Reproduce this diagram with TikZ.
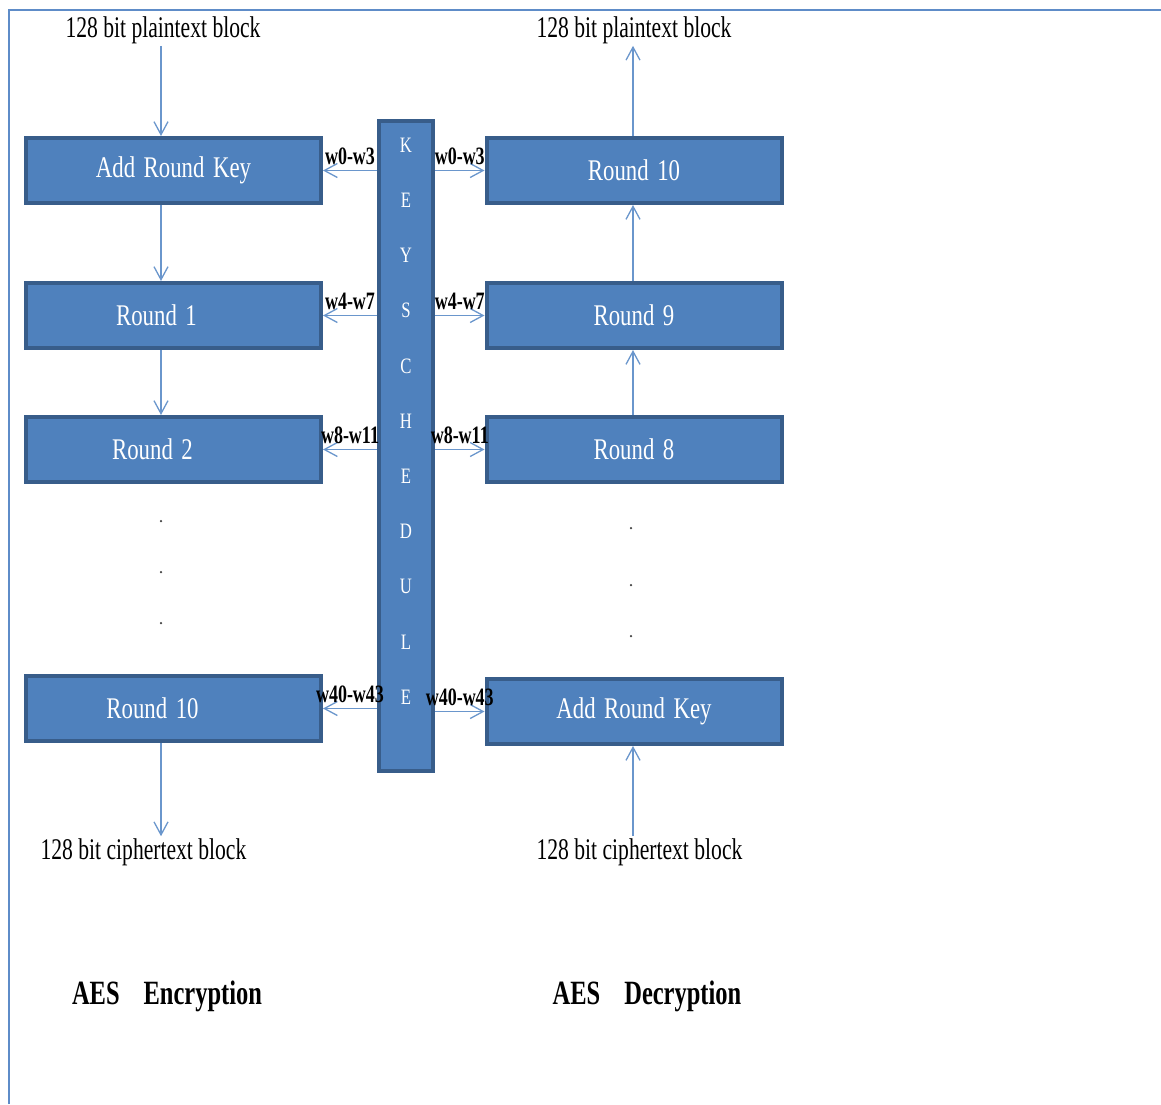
\documentclass[tikz,border=0pt]{standalone}
\usepackage{fontspec}
\setmainfont{Liberation Serif}[FakeStretch=0.72]
\newfontfamily\boxfont{Liberation Serif}[FakeStretch=0.76, WordSpace=1.5]
\usepackage{tikz}
\usetikzlibrary{arrows.meta,positioning}
\definecolor{boxblue}{HTML}{4F81BD}
\definecolor{boxedge}{HTML}{385D8A}
\definecolor{linkblue}{HTML}{6A96CC}
\definecolor{framecol}{HTML}{5E8CC8}

\tikzset{
  rbox/.style={draw=boxedge, fill=boxblue, line width=4pt, minimum width=295pt,
    minimum height=65pt, text=white, font=\boxfont\fontsize{30}{36}\selectfont},
  kbox/.style={draw=boxedge, fill=boxblue, line width=4pt, minimum width=54pt,
    minimum height=650pt},
  ktext/.style={text=white, align=center, font=\boxfont\fontsize{22}{55.2}\selectfont},
  link/.style={draw=linkblue, line width=1.3pt, -{Straight Barb[length=13pt,width=14pt]}},
  wlab/.style={above=4pt, inner sep=1pt, font=\bfseries\fontsize{25}{28}\selectfont},
  blocklab/.style={inner sep=2pt, font=\fontsize{30}{36}\selectfont},
  aestitle/.style={font=\bfseries\fontsize{34}{40}\selectfont},
  dot/.style={circle, fill=black!75, inner sep=0pt, minimum size=2.5pt},
}

\begin{document}
\begin{tikzpicture}[x=1pt, y=-1pt]
   \useasboundingbox (0,0) rectangle (1161,1104);
   \draw[framecol, line width=2pt] (9,1104) -- (9,10) -- (1161,10);

   % column axes
   \coordinate (encx) at (161,0);
   \coordinate (decx) at (633,0);

   % encryption side
   \node[blocklab] (ptE) at (163,30) {128 bit plaintext block};
   \node[rbox] (ark) at (173.5,170.5) {Add Round Key};
   \node[rbox] (r1) at (173.5,315.5) {Round 1\hspace*{34pt}};
   \node[rbox] (r2) at (173.5,449.5) {Round 2\hspace*{42pt}};
   \node[dot] (e1) at (161,521) {};
   \node[dot] (e2) at (161,572) {};
   \node[dot] (e3) at (161,623) {};
   \node[rbox] (r10) at (173.5,708.5) {Round 10\hspace*{42pt}};
   \node[blocklab] (ctE) at (143.5,852) {128 bit ciphertext block};
   \node[aestitle] (encT) at (167,996) {AES\hspace{24pt}Encryption};

   % key schedule in the middle
   \node[kbox] (ks) at (406,446) {};
   \node[ktext] (kstxt) at (406,421) {K\\E\\Y\\S\\C\\H\\E\\D\\U\\L\\E};

   % decryption side
   \node[blocklab] (ptD) at (634,30) {128 bit plaintext block};
   \node[rbox] (dr10) at (634,170.5) {Round 10};
   \node[rbox] (dr9) at (634,315.5) {Round 9};
   \node[rbox] (dr8) at (634,449.5) {Round 8};
   \node[dot] (d1) at (631,528) {};
   \node[dot] (d2) at (631,585) {};
   \node[dot] (d3) at (631,636) {};
   \node[rbox] (dark) at (634,711.5) {Add Round Key};
   \node[blocklab] (ctD) at (639.5,852) {128 bit ciphertext block};
   \node[aestitle] (decT) at (647,996) {AES\hspace{24pt}Decryption};

   % data path
   \draw[link] (ptE.south -| encx) -- (ark.north -| encx);
   \draw[link] (ark.south -| encx) -- (r1.north -| encx);
   \draw[link] (r1.south -| encx) -- (r2.north -| encx);
   \draw[link] (r10.south -| encx) -- (ctE.north -| encx);

   \draw[link] (ctD.north -| decx) -- (dark.south -| decx);
   \draw[link] (dr8.north -| decx) -- (dr9.south -| decx);
   \draw[link] (dr9.north -| decx) -- (dr10.south -| decx);
   \draw[link] (dr10.north -| decx) -- (ptD.south -| decx);

   % round keys
   \draw[link] (ark -| ks.west) -- node[wlab]{w0-w3} (ark.east);
   \draw[link] (r1 -| ks.west) -- node[wlab]{w4-w7} (r1.east);
   \draw[link] (r2 -| ks.west) -- node[wlab]{w8-w11} (r2.east);
   \draw[link] (r10 -| ks.west) -- node[wlab]{w40-w43} (r10.east);

   \draw[link] (dr10 -| ks.east) -- node[wlab]{w0-w3} (dr10.west);
   \draw[link] (dr9 -| ks.east) -- node[wlab]{w4-w7} (dr9.west);
   \draw[link] (dr8 -| ks.east) -- node[wlab]{w8-w11} (dr8.west);
   \draw[link] (dark -| ks.east) -- node[wlab]{w40-w43} (dark.west);
\end{tikzpicture}
\end{document}
